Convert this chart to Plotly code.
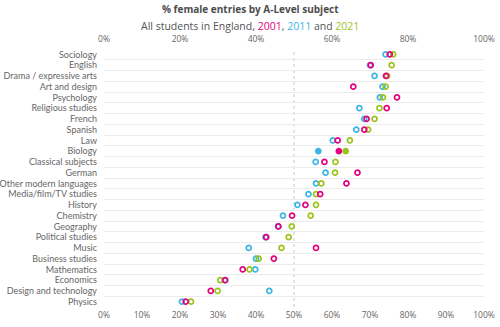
import plotly.graph_objects as go

subjects = ["Sociology", "English", "Drama / expressive arts", "Art and design", "Psychology",
            "Religious studies", "French", "Spanish", "Law", "Biology", "Classical subjects",
            "German", "Other modern languages", "Media/film/TV studies", "History", "Chemistry",
            "Geography", "Political studies", "Music", "Business studies", "Mathematics",
            "Economics", "Design and technology", "Physics"]

pct_2001 = [75.2, 70.2, 74.2, 65.6, 77.1, 74.4, 69.1, 68.5, 61.5, 61.8, 58.0, 66.7, 63.8, 56.9,
            53.0, 49.5, 45.9, 42.7, 55.8, 44.7, 36.5, 31.9, 28.1, 21.5]
pct_2011 = [74.1, 70.0, 71.2, 73.3, 72.6, 67.2, 68.5, 66.4, 60.2, 56.4, 55.7, 58.3, 55.8, 53.8,
            50.9, 47.1, 45.8, 42.5, 38.1, 40.0, 39.8, 31.8, 43.5, 20.5]
pct_2021 = [76.1, 75.7, 74.5, 74.1, 73.4, 72.5, 71.2, 69.5, 64.7, 63.6, 60.9, 60.8, 57.2, 55.8,
            55.8, 54.4, 49.4, 48.6, 46.7, 40.7, 38.3, 30.6, 29.9, 22.9]

highlight = "Biology"
parity = 50
top_ticks = [0, 20, 40, 60, 80, 100]
bottom_ticks = [0, 10, 20, 30, 40, 50, 60, 70, 80, 90, 100]

PINK = "#e6007e"
BLUE = "#3cb4e5"
GREEN = "#9cc31a"
FONT = "Open Sans"
LABEL_FONT = "Lato"
TXT = "#666666"

W, H = 500, 327
ML, MR, MT, MB = 104, 16, 49, 20

n = len(subjects)
ypos = list(range(n))
symbols = ["circle" if s == highlight else "circle-open" for s in subjects]

fig = go.Figure()
for name, vals, col, xa in [("2011", pct_2011, BLUE, "x"), ("2021", pct_2021, GREEN, "x"),
                            ("2001", pct_2001, PINK, "x2")]:
    fig.add_trace(go.Scatter(
        x=vals, y=ypos, mode="markers", name=name, xaxis=xa, yaxis="y",
        marker=dict(symbol=symbols, size=5, color=col, line=dict(width=1.7, color=col)),
        showlegend=False, cliponaxis=False,
    ))

fig.add_shape(type="line", x0=parity, x1=parity, y0=0, y1=1, xref="x", yref="paper",
              line=dict(color="#c8c8c8", width=1, dash="dot"), layer="below")

axis_common = dict(range=[0, 100], showgrid=False, zeroline=False, showline=False, ticks="",
                   automargin=False,
                   tickfont=dict(size=8.5, color=TXT, family=FONT))

center_x = (W / 2 - ML) / (W - ML - MR)
split_y = 17.5

fig.update_layout(
    width=W, height=H,
    margin=dict(l=ML, r=MR, t=MT, b=MB),
    paper_bgcolor="white", plot_bgcolor="white",
    font=dict(family=FONT, size=9, color=TXT),
    xaxis=dict(tickvals=bottom_ticks, ticktext=[f"{v}%" for v in bottom_ticks],
               ticklabelstandoff=1, **axis_common),
    xaxis2=dict(overlaying="x", side="top", tickvals=top_ticks,
                ticktext=[f"{v}%" for v in top_ticks], ticklabelstandoff=4, **axis_common),
    yaxis=dict(range=[n - 0.5, -0.5], tickvals=ypos, ticktext=subjects,
               showgrid=False, zeroline=False, showline=False, ticks="", automargin=False,
               ticklabelstandoff=6, tickfont=dict(size=9, color=TXT, family=LABEL_FONT),
               minor=dict(tick0=0.5, dtick=1, showgrid=True, gridcolor="#ebebeb",
                          gridwidth=1, ticks="")),
    annotations=[
        dict(text="<b>% female entries by A-Level subject</b>", x=center_x, y=1,
             xref="paper", yref="paper", yanchor="bottom", xanchor="center",
             showarrow=False, yshift=MT - split_y, borderpad=0,
             font=dict(size=10, color="#4d4d4d", family=FONT)),
        dict(text=("All students in England, "
                   f"<span style='color:{PINK}'>2001</span>, "
                   f"<span style='color:{BLUE}'>2011</span> and "
                   f"<span style='color:{GREEN}'>2021</span>"),
             x=center_x, y=1, xref="paper", yref="paper", yanchor="top", xanchor="center",
             showarrow=False, yshift=MT - split_y, borderpad=0,
             font=dict(size=10.5, color="#555555", family=FONT)),
    ],
)

fig.write_html("out.html")
